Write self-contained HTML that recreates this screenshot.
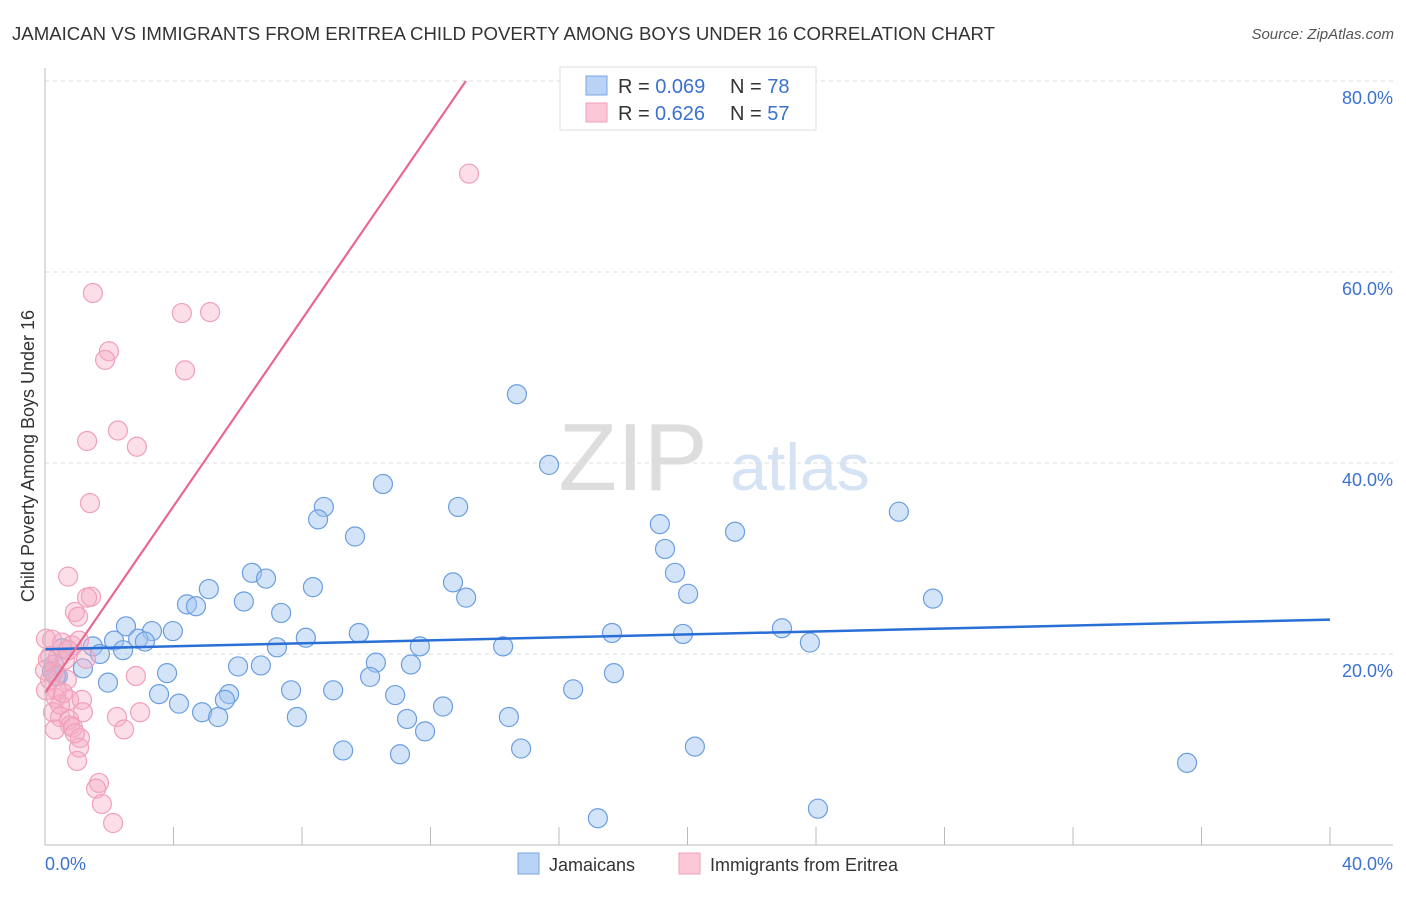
<!DOCTYPE html>
<html><head><meta charset="utf-8"><style>
body{margin:0;background:#fff;font-family:"Liberation Sans",sans-serif}
svg text{font-family:"Liberation Sans",sans-serif}
</style></head><body>
<svg id="c" width="1406" height="892" xmlns="http://www.w3.org/2000/svg">
<text x="12" y="40" font-size="18" fill="#333" textLength="983" lengthAdjust="spacingAndGlyphs">JAMAICAN VS IMMIGRANTS FROM ERITREA CHILD POVERTY AMONG BOYS UNDER 16 CORRELATION CHART</text>
<text x="1394" y="39" font-size="15" fill="#555" font-style="italic" text-anchor="end">Source: ZipAtlas.com</text>
<text x="633" y="490" font-size="96" fill="#ddd" font-family="Liberation Serif" text-anchor="middle">ZIP</text>
<text x="800" y="490" font-size="66" fill="#d5e3f5" text-anchor="middle">atlas</text>
<text transform="translate(34,456) rotate(-90)" font-size="18" fill="#333" text-anchor="middle">Child Poverty Among Boys Under 16</text>
<g id="grid"></g><g id="pts"></g><g id="lines"></g>
<line x1="45" y1="68" x2="45" y2="845" stroke="#bbb"/>
<line x1="45" y1="845" x2="1393" y2="845" stroke="#bbb"/>
<text x="45" y="870" font-size="18" fill="#3b72d0">0.0%</text>
<text x="1393" y="870" font-size="18" fill="#3b72d0" text-anchor="end">40.0%</text>
<g>
<rect x="560" y="67" width="256" height="63" fill="#fff" stroke="#ddd"/>
<rect x="586" y="76" width="21" height="19" fill="#b8d3f5" stroke="#7aa6e0"/>
<rect x="586" y="103" width="21" height="19" fill="#fcc8d8" stroke="#f0a0b8"/>
<text x="618" y="93" font-size="20" fill="#333">R = <tspan fill="#3b72d0">0.069</tspan><tspan x="730">N = </tspan><tspan fill="#3b72d0">78</tspan></text>
<text x="618" y="120" font-size="20" fill="#333">R = <tspan fill="#3b72d0" x="655">0.626</tspan><tspan x="730">N = </tspan><tspan fill="#3b72d0">57</tspan></text>
</g>
<g>
<rect x="518" y="853" width="21" height="21" fill="#b8d3f5" stroke="#7aa6e0"/>
<text x="549" y="871" font-size="18" fill="#333">Jamaicans</text>
<rect x="679" y="853" width="21" height="21" fill="#fcc8d8" stroke="#f0a0b8"/>
<text x="710" y="871" font-size="18" fill="#333">Immigrants from Eritrea</text>
</g>
</svg>
<script>
const yTicks=[20,40,60,80];
const xTickCount=10;
const blueX=[14.69,15.69,10.52,12.86,8.68,8.50,9.65,19.14,19.30,21.48,26.58,6.44,6.88,5.10,8.34,12.70,13.11,6.19,4.42,4.70,19.61,20.02,27.64,7.35,2.52,3.33,3.98,2.15,2.90,3.11,1.49,8.12,9.77,17.65,19.86,22.94,23.81,11.67,14.26,7.22,2.43,1.71,0.53,0.28,6.01,6.72,10.30,11.39,3.80,10.12,17.71,1.18,1.96,0.40,7.66,8.97,3.55,5.73,5.60,10.90,16.44,4.17,12.39,4.89,5.39,7.84,11.27,11.83,14.44,9.28,11.05,14.82,20.23,35.55,24.06,17.21,0.22,0.34];
const blueY=[47.2,39.8,37.8,35.4,35.4,34.1,32.3,33.6,31.0,32.8,34.9,28.5,27.9,26.8,27.0,27.5,25.9,25.5,25.2,25.0,28.5,26.3,25.8,24.3,22.9,22.4,22.4,21.4,21.6,21.3,20.8,21.7,22.2,22.2,22.1,22.7,21.2,20.8,20.8,20.7,20.4,20.0,20.6,18.9,18.7,18.8,19.1,18.9,18.0,17.6,18.0,18.5,17.0,17.7,16.2,16.2,15.8,15.8,15.2,15.7,16.3,14.8,14.5,13.9,13.4,13.4,13.2,11.9,13.4,9.9,9.5,10.1,10.3,8.6,3.8,2.8,18.2,17.7];
const pinkX=[13.20,1.49,4.26,5.14,1.99,1.87,4.36,1.31,2.27,2.86,1.40,0.72,1.43,1.31,0.93,1.03,0.03,0.53,0.84,1.06,0.16,0.40,0.62,1.28,0.28,0.68,0.37,0.34,0.75,1.15,0.25,0.47,1.18,2.24,2.96,0.75,0.78,0.31,0.87,2.46,1.09,1.06,1.00,2.83,1.68,1.59,1.77,2.12,0.03,0.09,0.47,0.72,0,0.16,0.56,0.93,0.22];
const pinkY=[70.3,57.8,55.7,55.8,51.7,50.8,49.7,42.3,43.4,41.7,35.8,28.1,26.0,25.9,24.4,23.9,21.6,21.2,20.9,21.4,19.8,19.6,19.4,19.5,18.1,17.3,16.2,15.4,15.2,15.2,13.9,13.4,13.9,13.4,13.9,13.1,12.5,12.1,12.3,12.1,11.2,10.2,8.8,17.7,6.5,5.9,4.3,2.3,16.2,19.4,14.7,20.4,18.3,17.3,15.9,11.7,21.5];
const blueTrend=[20.5,23.6]; // at x=0 and x=40
const pinkTrend=[15.9,80,13.1]; // y at x=0, y end, x end
const NS='http://www.w3.org/2000/svg';
const sx=v=>45+v/40*1285, sy=v=>845-v*9.55;
function mk(t,a,p){const e=document.createElementNS(NS,t);for(const k in a)e.setAttribute(k,a[k]);document.getElementById(p).appendChild(e);return e;}
yTicks.forEach(v=>{
 const l=mk('line',{x1:45,x2:1393,y1:sy(v),y2:sy(v),stroke:'#ddd','stroke-dasharray':'4,4'},'grid');
 
 
 const t=mk('text',{x:1393,y:sy(v)+23,'font-size':18,fill:'#3b72d0','text-anchor':'end'},'grid');
 t.textContent=v.toFixed(1)+'%';
 
 
});
for(let i=1;i<=xTickCount;i++){
 const l=mk('line',{x1:sx(i*4),x2:sx(i*4),y1:827,y2:845,stroke:'#bbb'},'grid');
 
 
}
blueX.forEach((x,i)=>{
 const c=mk('circle',{cx:sx(x),cy:sy(blueY[i]),r:9.5,fill:'rgba(160,196,240,0.45)',stroke:'#6a9ee0','stroke-width':1.2},'pts');
 
 
});
pinkX.forEach((x,i)=>{
 const c=mk('circle',{cx:sx(x),cy:sy(pinkY[i]),r:9.5,fill:'rgba(246,172,198,0.4)',stroke:'#f0a0b8','stroke-width':1.2},'pts');
 
 
});
const bl=mk('line',{x1:sx(0),y1:sy(blueTrend[0]),x2:sx(40),y2:sy(blueTrend[1]),stroke:'#2a6fd6','stroke-width':2.5},'lines');


const pl=mk('line',{x1:sx(0),y1:sy(pinkTrend[0]),x2:sx(pinkTrend[2]),y2:sy(pinkTrend[1]),stroke:'#e8688f','stroke-width':2.2},'lines');


</script>
</body></html>
